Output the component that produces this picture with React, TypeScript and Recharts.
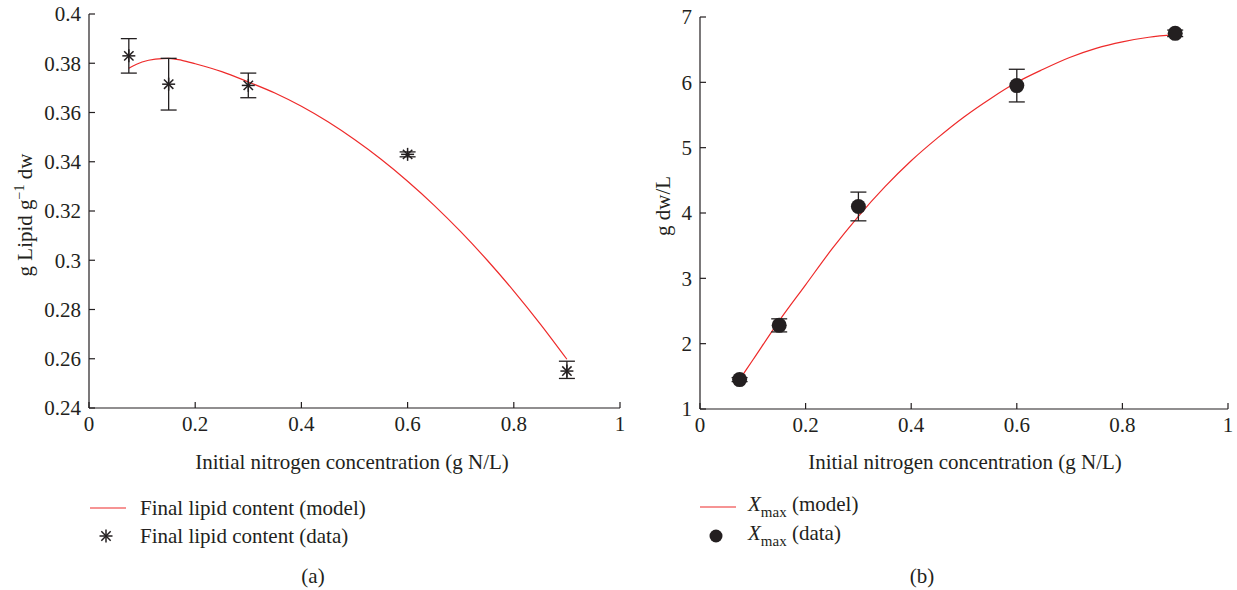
import React from 'react';
import { ComposedChart, Line, Scatter, ErrorBar, XAxis, YAxis } from 'recharts';

// panel (a): lipid content
const lipidModelX = [0.075, 0.1, 0.125, 0.15, 0.175, 0.2, 0.25, 0.3, 0.35, 0.4, 0.45, 0.5, 0.55, 0.6, 0.65, 0.7, 0.75, 0.8, 0.85, 0.9];
const lipidModelY = [0.378, 0.3805, 0.3817, 0.382, 0.3812, 0.3798, 0.3766, 0.3724, 0.3679, 0.3625, 0.3562, 0.349, 0.341, 0.3321, 0.3223, 0.3116, 0.3, 0.2875, 0.2741, 0.2598];
const lipidDataX = [0.075, 0.15, 0.3, 0.6, 0.9];
const lipidDataY = [0.383, 0.3715, 0.371, 0.343, 0.255];
const lipidErrLow = [0.376, 0.361, 0.366, 0.342, 0.252];
const lipidErrHigh = [0.39, 0.382, 0.376, 0.344, 0.259];
const lipidTicks = [0.24, 0.26, 0.28, 0.3, 0.32, 0.34, 0.36, 0.38, 0.4];

// panel (b): biomass
const bioModelX = [0.075, 0.1, 0.15, 0.2, 0.25, 0.3, 0.35, 0.4, 0.45, 0.5, 0.55, 0.6, 0.65, 0.7, 0.75, 0.8, 0.85, 0.9];
const bioModelY = [1.45, 1.75, 2.35, 2.9, 3.45, 3.95, 4.4, 4.8, 5.15, 5.47, 5.75, 6.0, 6.2, 6.38, 6.52, 6.62, 6.69, 6.73];
const bioDataX = [0.075, 0.15, 0.3, 0.6, 0.9];
const bioDataY = [1.45, 2.28, 4.1, 5.95, 6.75];
const bioErrLow = [1.42, 2.18, 3.88, 5.7, 6.7];
const bioErrHigh = [1.48, 2.38, 4.32, 6.2, 6.8];
const bioTicks = [1, 2, 3, 4, 5, 6, 7];

const xTicks = [0, 0.2, 0.4, 0.6, 0.8, 1];

const INK = '#231f20';
const RED = '#ee2a2a';
const FONT = '"Liberation Serif", "DejaVu Serif", serif';

const fmt = (v: number) => String(Number(v.toFixed(2)));

const YTick = (props: any) => {
  const { x, y, payload } = props;
  return (
    <g>
      <line x1={x + 8} y1={y} x2={x + 14} y2={y} stroke={INK} strokeWidth={1.2} />
      <text x={x} y={y} dy="0.35em" textAnchor="end" fill={INK} fontSize={21} fontFamily={FONT}>
        {fmt(payload.value)}
      </text>
    </g>
  );
};

const XTick = (props: any) => {
  const { x, y, payload } = props;
  return (
    <g>
      <line x1={x} y1={y - 8} x2={x} y2={y - 14} stroke={INK} strokeWidth={1.2} />
      <text x={x} y={y} dy="0.72em" textAnchor="middle" fill={INK} fontSize={21} fontFamily={FONT}>
        {fmt(payload.value)}
      </text>
    </g>
  );
};

const Star = (props: any) => {
  const { cx, cy } = props;
  const r = 6.5;
  const d = r * 0.72;
  return (
    <g stroke={INK} strokeWidth={1.5}>
      <line x1={cx} y1={cy - r} x2={cx} y2={cy + r} />
      <line x1={cx - r} y1={cy} x2={cx + r} y2={cy} />
      <line x1={cx - d} y1={cy - d} x2={cx + d} y2={cy + d} />
      <line x1={cx - d} y1={cy + d} x2={cx + d} y2={cy - d} />
    </g>
  );
};

const Dot = (props: any) => <circle cx={props.cx} cy={props.cy} r={7.5} fill={INK} />;

const build = (xs: number[], ys: number[]) => xs.map((x, i) => ({ x, y: ys[i] }));
const buildPts = (xs: number[], ys: number[], lo: number[], hi: number[]) =>
  xs.map((x, i) => ({ x, y: ys[i], err: [ys[i] - lo[i], hi[i] - ys[i]] }));

const abs = (left: number, top: number): React.CSSProperties => ({
  position: 'absolute',
  left,
  top,
  fontFamily: FONT,
  fontSize: 21,
  lineHeight: 1,
  color: INK,
  whiteSpace: 'nowrap',
});

export default function App() {
  const lipidModel = build(lipidModelX, lipidModelY);
  const lipidPts = buildPts(lipidDataX, lipidDataY, lipidErrLow, lipidErrHigh);
  const bioModel = build(bioModelX, bioModelY);
  const bioPts = buildPts(bioDataX, bioDataY, bioErrLow, bioErrHigh);

  const axisLine = { stroke: INK, strokeWidth: 1.2 };

  return (
    <div style={{ position: 'absolute', left: 0, top: 0, width: 1237, height: 590, background: '#fff' }}>
      {/* panel (a) */}
      <div style={{ position: 'absolute', left: 0, top: 0 }}>
        <ComposedChart width={640} height={440} margin={{ top: 14, right: 20, bottom: 0, left: 0 }}>
          <XAxis
            type="number"
            dataKey="x"
            domain={[0, 1]}
            ticks={xTicks}
            axisLine={axisLine}
            tickLine={false}
            tickSize={0}
            tick={<XTick />}
            tickMargin={8}
            height={32}
            allowDataOverflow
          />
          <YAxis
            type="number"
            dataKey="y"
            domain={[0.24, 0.4]}
            ticks={lipidTicks}
            axisLine={axisLine}
            tickLine={false}
            tickSize={0}
            tickMargin={8}
            tick={<YTick />}
            width={89}
            allowDataOverflow
          />
          <Line data={lipidModel} dataKey="y" type="monotone" stroke={RED} strokeWidth={1.2} dot={false} isAnimationActive={false} />
          <Scatter data={lipidPts} dataKey="y" shape={<Star />} isAnimationActive={false}>
            <ErrorBar dataKey="err" direction="y" width={8} stroke={INK} strokeWidth={1.3} />
          </Scatter>
        </ComposedChart>
      </div>
      <div
        style={{
          ...abs(24, 215),
          transform: 'translate(-50%, -50%) rotate(-90deg)',
        }}
      >
        g Lipid g<sup style={{ fontSize: 14 }}>−1</sup> dw
      </div>
      <div style={{ ...abs(352, 462), transform: 'translate(-50%, -50%)' }}>Initial nitrogen concentration (g N/L)</div>

      <svg style={{ position: 'absolute', left: 90, top: 500 }} width={40} height={50}>
        <line x1={0} y1={8} x2={36} y2={8} stroke={RED} strokeWidth={1.2} />
        <Star cx={16} cy={36} />
      </svg>
      <div style={{ ...abs(140, 508), transform: 'translateY(-50%)' }}>Final lipid content (model)</div>
      <div style={{ ...abs(140, 536), transform: 'translateY(-50%)' }}>Final lipid content (data)</div>
      <div style={{ ...abs(313, 576), transform: 'translate(-50%, -50%)' }}>(a)</div>

      {/* panel (b) */}
      <div style={{ position: 'absolute', left: 610, top: 0 }}>
        <ComposedChart width={627} height={441} margin={{ top: 17, right: 9, bottom: 0, left: 0 }}>
          <XAxis
            type="number"
            dataKey="x"
            domain={[0, 1]}
            ticks={xTicks}
            axisLine={axisLine}
            tickLine={false}
            tickSize={0}
            tickMargin={8}
            tick={<XTick />}
            height={32}
            allowDataOverflow
          />
          <YAxis
            type="number"
            dataKey="y"
            domain={[1, 7]}
            ticks={bioTicks}
            axisLine={axisLine}
            tickLine={false}
            tickSize={0}
            tickMargin={8}
            tick={<YTick />}
            width={90}
            allowDataOverflow
          />
          <Line data={bioModel} dataKey="y" type="monotone" stroke={RED} strokeWidth={1.2} dot={false} isAnimationActive={false} />
          <Scatter data={bioPts} dataKey="y" shape={<Dot />} isAnimationActive={false}>
            <ErrorBar dataKey="err" direction="y" width={8} stroke={INK} strokeWidth={1.3} />
          </Scatter>
        </ComposedChart>
      </div>
      <div
        style={{
          ...abs(663, 206),
          transform: 'translate(-50%, -50%) rotate(-90deg)',
        }}
      >
        g dw/L
      </div>
      <div style={{ ...abs(965, 462), transform: 'translate(-50%, -50%)' }}>Initial nitrogen concentration (g N/L)</div>

      <svg style={{ position: 'absolute', left: 700, top: 499 }} width={40} height={50}>
        <line x1={0} y1={8} x2={36} y2={8} stroke={RED} strokeWidth={1.2} />
        <circle cx={16} cy={37} r={6.5} fill={INK} />
      </svg>
      <div style={{ ...abs(748, 507), transform: 'translateY(-50%)' }}>
        <i>X</i>
        <sub style={{ fontSize: 15 }}>max</sub> (model)
      </div>
      <div style={{ ...abs(748, 536), transform: 'translateY(-50%)' }}>
        <i>X</i>
        <sub style={{ fontSize: 15 }}>max</sub> (data)
      </div>
      <div style={{ ...abs(922, 576), transform: 'translate(-50%, -50%)' }}>(b)</div>
    </div>
  );
}
